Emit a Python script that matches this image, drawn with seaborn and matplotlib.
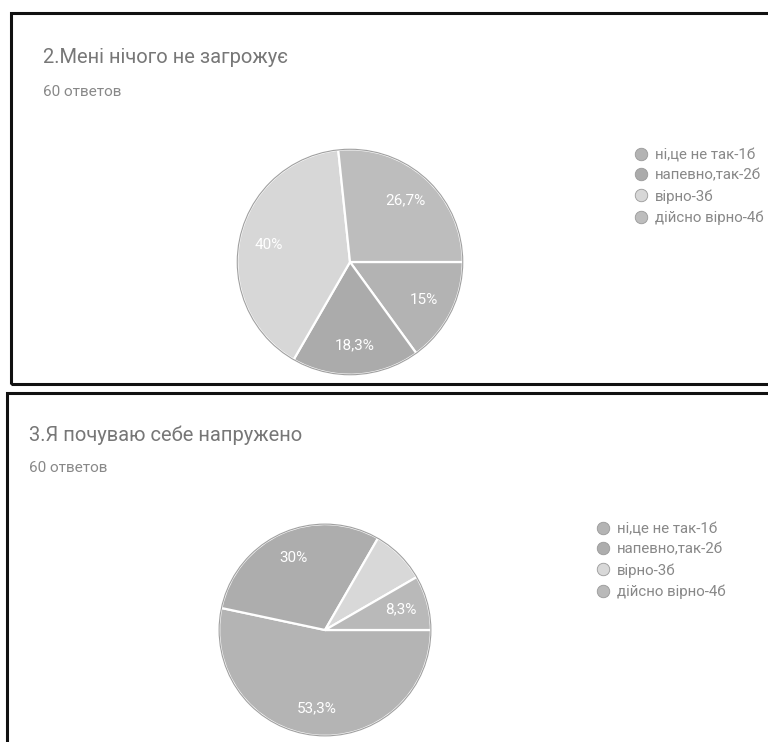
import matplotlib
matplotlib.use("Agg")
import matplotlib.pyplot as plt
from matplotlib.patches import Rectangle
from matplotlib.lines import Line2D
import numpy as np
import seaborn as sns

categories = ["ні,це не так-1б", "напевно,так-2б", "вірно-3б", "дійсно вірно-4б"]
total = 60
q2_title = "2.Мені нічого не загрожує"
q2_counts = [9, 11, 24, 16]
q2_colors = ["#b3b3b3", "#ababab", "#d7d7d7", "#bdbdbd"]
q3_title = "3.Я почуваю себе напружено"
q3_counts = [32, 18, 5, 5]
q3_colors = ["#b4b4b4", "#adadad", "#d8d8d8", "#b9b9b9"]
q3_show = [True, True, False, True]
subtitle = "60 ответов"

sns.set_theme(style="white")
plt.rcParams["font.family"] = ["Roboto", "DejaVu Sans"]

W, H = 768, 742
fig = plt.figure(figsize=(W / 100, H / 100), dpi=100)
fig.patch.set_facecolor("white")


def fx(px):
    return px / W


def fy(py):
    return 1 - py / H


# panel frames
fig.patches.append(Rectangle((fx(11), fy(384)), fx(800) - fx(11), fy(13) - fy(384),
                             transform=fig.transFigure, fill=False, edgecolor="#111111", linewidth=2.2))
fig.patches.append(Rectangle((fx(7), fy(800)), fx(800) - fx(7), fy(393) - fy(800),
                             transform=fig.transFigure, fill=False, edgecolor="#111111", linewidth=2.2))


def fmt(c):
    p = round(c / total * 100, 1)
    s = f"{p:.1f}"
    if s.endswith(".0"):
        s = s[:-2]
    return s.replace(".", ",") + "%"


def draw_panel(cx, cy, r, counts, colors, show, title, tx, ty, sy, lx, ly):
    ax = fig.add_axes([fx(cx - r), fy(cy + r), fx(2 * r), (2 * r) / H])
    pal = sns.color_palette(colors)
    ax.pie(counts, colors=pal, startangle=0, counterclock=False,
           wedgeprops=dict(edgecolor="white", linewidth=1.6))
    ax.add_patch(plt.Circle((0, 0), 1.0, fill=False, edgecolor="#a0a0a0", linewidth=0.8))
    cum = 0
    for c, s in zip(counts, show):
        mid = (cum + c / 2) / total * 360
        cum += c
        if not s:
            continue
        ang = np.deg2rad(-mid)
        d = 0.74
        ax.text(d * np.cos(ang), d * np.sin(ang), fmt(c), ha="center", va="center",
                color="white", fontsize=11)
    ax.set_xlim(-1.02, 1.02)
    ax.set_ylim(-1.02, 1.02)
    ax.axis("off")
    fig.text(fx(tx), fy(ty), title, fontsize=14.5, color="#777777", va="baseline", ha="left")
    fig.text(fx(tx), fy(sy), subtitle, fontsize=11, color="#888888", va="baseline", ha="left")
    handles = [Line2D([], [], linestyle="none", marker="o", markersize=9,
                      markerfacecolor=col, markeredgecolor="#999999", markeredgewidth=0.6)
               for col in pal]
    fig.legend(handles, categories, loc="upper left", bbox_to_anchor=(fx(lx), fy(ly)),
               frameon=False, fontsize=10.8, labelcolor="#888888", handlelength=0.8,
               handletextpad=0.53, labelspacing=0.44, borderpad=0, borderaxespad=0)


draw_panel(350, 262, 115, q2_counts, q2_colors, [True] * 4, q2_title, 43, 63, 96, 635, 148)
draw_panel(325, 630, 108, q3_counts, q3_colors, q3_show, q3_title, 29, 441, 472, 597, 522)

fig.savefig("out.png", dpi=100, facecolor="white")
